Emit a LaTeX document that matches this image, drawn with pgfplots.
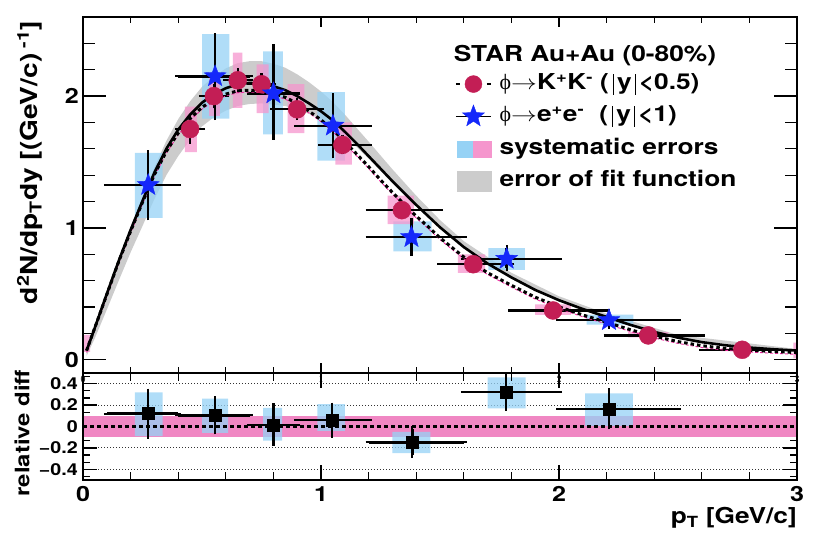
\documentclass[border=0pt]{standalone}
\usepackage{pgfplots}
\pgfplotsset{compat=1.18}
\usepackage{pgfplotstable}
\usepackage{fontspec}
\setmainfont{TeX Gyre Heros}[FakeStretch=1.2]
\newfontfamily\grk{Liberation Serif}

\definecolor{kcol}{RGB}{195,30,85}
\definecolor{ecol}{RGB}{20,40,250}
\definecolor{bsys}{RGB}{150,210,245}
\definecolor{psys}{RGB}{245,150,205}
\definecolor{pband}{RGB}{240,135,195}
\definecolor{bandgray}{RGB}{204,204,204}

% filled five-pointed star (ROOT marker 29)
\pgfdeclareplotmark{fstar}{%
  \pgfpathmoveto{\pgfpointpolar{90}{\pgfplotmarksize}}%
  \pgfpathlineto{\pgfpointpolar{126}{0.42\pgfplotmarksize}}%
  \pgfpathlineto{\pgfpointpolar{162}{\pgfplotmarksize}}%
  \pgfpathlineto{\pgfpointpolar{198}{0.42\pgfplotmarksize}}%
  \pgfpathlineto{\pgfpointpolar{234}{\pgfplotmarksize}}%
  \pgfpathlineto{\pgfpointpolar{270}{0.42\pgfplotmarksize}}%
  \pgfpathlineto{\pgfpointpolar{306}{\pgfplotmarksize}}%
  \pgfpathlineto{\pgfpointpolar{342}{0.42\pgfplotmarksize}}%
  \pgfpathlineto{\pgfpointpolar{18}{\pgfplotmarksize}}%
  \pgfpathlineto{\pgfpointpolar{54}{0.42\pgfplotmarksize}}%
  \pgfpathclose
  \pgfusepathqfillstroke}

% systematic box: x1 x2 y1 y2 colour
\newcommand\sysbox[5]{\addplot[draw=none, fill=#5, fill opacity=0.75, forget plot]
  coordinates {(#1,#3) (#2,#3) (#2,#4) (#1,#4) (#1,#3)};}

% fit function (solid) and K+K- fit (dotted)
\pgfplotstableread{
x S D
0.015 0.07 0.07
0.05 0.245 0.245
0.10 0.50 0.495
0.15 0.75 0.745
0.20 0.985 0.975
0.25 1.205 1.195
0.30 1.42 1.405
0.35 1.60 1.58
0.40 1.745 1.72
0.45 1.86 1.83
0.50 1.95 1.915
0.55 2.015 1.975
0.60 2.06 2.015
0.65 2.09 2.04
0.70 2.10 2.045
0.75 2.095 2.04
0.80 2.075 2.02
0.85 2.045 1.99
0.90 2.00 1.945
0.95 1.945 1.885
1.00 1.885 1.82
1.05 1.815 1.745
1.10 1.73 1.655
1.15 1.64 1.56
1.20 1.545 1.465
1.25 1.45 1.365
1.30 1.355 1.27
1.35 1.265 1.18
1.40 1.175 1.09
1.45 1.09 1.01
1.50 1.005 0.925
1.60 0.855 0.78
1.70 0.73 0.66
1.80 0.625 0.565
1.90 0.53 0.475
2.00 0.452 0.402
2.10 0.385 0.34
2.20 0.325 0.285
2.30 0.265 0.228
2.40 0.212 0.179
2.50 0.168 0.138
2.60 0.134 0.107
2.70 0.11 0.086
2.80 0.093 0.073
2.90 0.08 0.063
3.00 0.07 0.055
}\fittab

% error band of the fit: upper edge, then lower edge backwards
\pgfplotstableread{
x y
0.015 0.07
0.05 0.25
0.10 0.51
0.15 0.76
0.20 1.005
0.25 1.235
0.30 1.46
0.35 1.66
0.40 1.825
0.45 1.96
0.50 2.07
0.55 2.15
0.60 2.21
0.65 2.25
0.70 2.265
0.75 2.265
0.80 2.245
0.85 2.215
0.90 2.165
0.95 2.105
1.00 2.035
1.05 1.955
1.10 1.86
1.20 1.655
1.30 1.445
1.40 1.245
1.50 1.06
1.60 0.90
1.80 0.66
2.00 0.482
2.20 0.35
2.50 0.188
3.00 0.082
3.00 0.065
2.50 0.158
2.20 0.315
2.00 0.442
1.80 0.615
1.60 0.845
1.50 0.995
1.40 1.165
1.30 1.34
1.20 1.525
1.10 1.70
1.05 1.775
1.00 1.825
0.95 1.865
0.90 1.90
0.85 1.925
0.80 1.935
0.75 1.945
0.70 1.94
0.65 1.925
0.60 1.89
0.55 1.84
0.50 1.77
0.45 1.67
0.40 1.545
0.35 1.40
0.30 1.22
0.25 1.015
0.20 0.815
0.15 0.60
0.10 0.38
0.05 0.165
0.015 0.03
}\bandtab

% phi -> K+K-
\pgfplotstableread{
x y exm exp ey
0.45 1.75 0.05 0.05 0.09
0.55 2.00 0.05 0.05 0.07
0.65 2.12 0.05 0.05 0.07
0.75 2.09 0.05 0.05 0.06
0.90 1.90 0.10 0.10 0.06
1.09 1.63 0.09 0.11 0.05
1.34 1.135 0.14 0.16 0.04
1.64 0.725 0.14 0.16 0.03
1.975 0.374 0.175 0.225 0.02
2.375 0.185 0.175 0.225 0.012
2.77 0.076 0.17 0.23 0.006
}\kktab

% phi -> e+e-
\pgfplotstableread{
x y exm exp eyp eym
0.274 1.325 0.174 0.126 0.24 0.245
0.555 2.15 0.155 0.145 0.305 0.31
0.80 2.02 0.10 0.10 0.35 0.33
1.05 1.775 0.15 0.15 0.225 0.225
1.38 0.93 0.18 0.22 0.12 0.12
1.78 0.765 0.18 0.22 0.08 0.07
2.21 0.30 0.21 0.29 0.04 0.04
}\eetab

% relative difference
\pgfplotstableread{
x y exm exp ey
0.274 0.12 0.174 0.126 0.205
0.555 0.104 0.155 0.145 0.15
0.80 0.015 0.10 0.10 0.172
1.045 0.06 0.145 0.155 0.135
1.384 -0.148 0.184 0.216 0.12
1.777 0.32 0.177 0.223 0.145
2.21 0.166 0.21 0.29 0.165
}\reltab

\pgfplotsset{
  frame/.style={scale only axis, anchor=south west, width=714bp,
    xmin=0, xmax=3, axis line style={line width=2bp},
    tick align=inside, tick style={black, line width=1.3bp}},
  xminors/.style={minor xtick={0.2,0.4,0.6,0.8,1.2,1.4,1.6,1.8,2.2,2.4,2.6,2.8}},
  every error bar/.append style={black, line width=2.4bp},
  ebars/.style={error bars/x dir=both, error bars/x explicit,
    error bars/y dir=both, error bars/y explicit,
    error bars/error bar style={black, line width=2.4bp},
    error bars/error mark options={black, line width=2.2bp, mark size=3bp}},
}

\begin{document}
\bfseries
\begin{tikzpicture}
\useasboundingbox (0,0) rectangle (830bp,540bp);

% ---------------- upper panel ----------------
\begin{axis}[frame, at={(83bp,167bp)}, height=356bp,
  ymin=-0.1, ymax=2.6,
  xtick=\empty,
  ytick={-1,0,1,2,3},
  minor ytick={0.2,0.4,0.6,0.8,1.2,1.4,1.6,1.8,2.2,2.4},
  major tick length=23bp, minor tick length=12bp,
  /pgf/number format/assume math mode=true,
  yticklabel style={font=\fontsize{21}{21}\selectfont, inner sep=0pt, xshift=-4bp},
  ylabel={d\textsuperscript{2}N/dp\textsubscript{T}dy [(GeV/c)\textsuperscript{ -1}]},
  ylabel style={at={(axis description cs:-0.0742,0.99)}, anchor=east,
    font=\fontsize{23.5}{23.5}\selectfont, inner sep=0pt},
  legend style={draw=none, fill=none, at={(axis description cs:0.521,0.845)},
    anchor=north west, inner sep=0pt, row sep=9bp, column sep=8bp,
    nodes={inner sep=0pt, text height=15.5bp, text depth=4.5bp},
    font=\fontsize{22}{22}\selectfont},
  legend cell align=left,
]
\addplot[fill=bandgray, draw=none, forget plot] table[x=x, y=y] {\bandtab};

\sysbox{0.218}{0.335}{1.076}{1.57}{bsys}
\sysbox{0.50}{0.615}{1.83}{2.47}{bsys}
\sysbox{0.757}{0.84}{1.71}{2.34}{bsys}
\sysbox{0.985}{1.10}{1.51}{2.03}{bsys}
\sysbox{1.304}{1.465}{0.822}{1.05}{bsys}
\sysbox{1.703}{1.857}{0.683}{0.848}{bsys}
\sysbox{2.116}{2.312}{0.266}{0.342}{bsys}

\sysbox{0.0}{0.03}{0.06}{0.19}{psys}
\sysbox{0.428}{0.478}{1.575}{1.92}{psys}
\sysbox{0.53}{0.575}{1.85}{2.15}{psys}
\sysbox{0.63}{0.67}{1.91}{2.33}{psys}
\sysbox{0.73}{0.78}{1.87}{2.24}{psys}
\sysbox{0.86}{0.93}{1.72}{2.09}{psys}
\sysbox{1.06}{1.13}{1.48}{1.80}{psys}
\sysbox{1.28}{1.39}{1.03}{1.245}{psys}
\sysbox{1.575}{1.69}{0.66}{0.80}{psys}
\sysbox{1.90}{2.05}{0.34}{0.42}{psys}
\sysbox{2.29}{2.46}{0.17}{0.21}{psys}
\sysbox{2.68}{2.86}{0.066}{0.087}{psys}
\sysbox{2.985}{3.0}{0.01}{0.13}{psys}

\addplot[only marks, mark=*, mark size=9bp, mark options={fill=kcol, draw=kcol},
  ebars, forget plot]
  table[x=x, y=y, x error minus=exm, x error plus=exp, y error=ey] {\kktab};
\addplot[only marks, mark=fstar, mark size=11.5bp, mark options={fill=ecol, draw=ecol},
  ebars, forget plot]
  table[x=x, y=y, x error minus=exm, x error plus=exp, y error plus=eyp, y error minus=eym] {\eetab};

\addplot[color={rgb,255:red,240;green,40;blue,160}, line width=0.9bp,
  dash pattern=on 3bp off 2bp, yshift=-1.8bp, forget plot] table[x=x, y=D] {\fittab};
\addplot[black, line width=3bp, dash pattern=on 3.5bp off 3bp, forget plot]
  table[x=x, y=D] {\fittab};
\addplot[black, line width=2.6bp, forget plot] table[x=x, y=S] {\fittab};

\node[anchor=base west, inner sep=0pt, font=\fontsize{22}{22}\selectfont]
  at (axis description cs:0.519,0.8736) {STAR Au+Au (0-80\%)};

\addlegendimage{legend image code/.code={
  \path (0bp,-11.5bp) (0bp,11.5bp);
  \draw[black, line width=1.5bp] (0bp,0bp) -- (4bp,0bp) (31bp,0bp) -- (35bp,0bp);
  \fill[kcol] (17.5bp,0bp) circle (8.5bp);}}
\addlegendentry{{\grk\mdseries ϕ}\scalebox{1.25}[1]{$\rightarrow$}K\textsuperscript{+}K\textsuperscript{-}
  (\hspace{4bp}\rule[-5bp]{1.1bp}{21bp}\hspace{3bp}y\hspace{3bp}\rule[-5bp]{1.1bp}{21bp}\hspace{3bp}<0.5)}
\addlegendimage{legend image code/.code={
  \path (0bp,-11.5bp) (0bp,11.5bp);
  \draw[black, line width=1.5bp] (0bp,0bp) -- (35bp,0bp);
  \begin{scope}[shift={(17.5bp,0bp)}, fill=ecol, draw=ecol]
    \pgfsetplotmarksize{11.5bp}\pgfuseplotmark{fstar}
  \end{scope}}}
\addlegendentry{{\grk\mdseries ϕ}\scalebox{1.25}[1]{$\rightarrow$}e\textsuperscript{+}e\textsuperscript{-}\hspace{8bp}
  (\hspace{4bp}\rule[-5bp]{1.1bp}{21bp}\hspace{3bp}y\hspace{3bp}\rule[-5bp]{1.1bp}{21bp}\hspace{3bp}<1)}
\addlegendimage{legend image code/.code={
  \path (0bp,-11.5bp) (0bp,11.5bp);
  \fill[bsys] (1bp,-8bp) rectangle (17.5bp,8bp);
  \fill[psys] (17.5bp,-8bp) rectangle (35bp,8bp);}}
\addlegendentry{systematic errors}
\addlegendimage{legend image code/.code={
  \path (0bp,-11.5bp) (0bp,11.5bp);
  \fill[bandgray] (1bp,-10bp) rectangle (35bp,10bp);}}
\addlegendentry{error of fit function}
\end{axis}

% x ticks of the upper panel
\begin{axis}[frame, at={(83bp,167bp)}, height=356bp,
  ymin=-0.1, ymax=2.6, ytick=\empty,
  xtick={0,1,2,3}, xminors, xticklabel={},
  major tick length=10bp, minor tick length=6bp]
\addplot[draw=none, forget plot] coordinates {(1.5,1)};
\end{axis}

% ---------------- lower panel ----------------
\begin{axis}[frame, at={(83bp,60bp)}, height=107bp,
  ymin=-0.5, ymax=0.5,
  xtick=\empty,
  ytick={-0.4,-0.2,0,0.2,0.4},
  yticklabels={−0.4,−0.2,0,0.2,0.4},
  minor ytick={-0.4667,-0.3333,-0.2667,-0.1333,-0.0667,0.0667,0.1333,0.2667,0.3333,0.4667},
  major tick length=14bp, minor tick length=7bp,
  ymajorgrids, grid style={black!80, line width=0.8bp, dash pattern=on 1bp off 2bp},
  yticklabel style={font=\fontsize{16.5}{16.5}\selectfont, inner sep=0pt, xshift=-5bp},
  ylabel={relative diff},
  ylabel style={at={(axis description cs:-0.0854,1.03)}, anchor=east,
    font=\fontsize{20}{20}\selectfont, inner sep=0pt},
]
\addplot[draw=none, fill=pband, forget plot]
  coordinates {(0,-0.098) (3,-0.098) (3,0.098) (0,0.098) (0,-0.098)};
\sysbox{0.218}{0.335}{-0.09}{0.32}{bsys}
\sysbox{0.50}{0.61}{-0.06}{0.26}{bsys}
\sysbox{0.757}{0.837}{-0.133}{0.175}{bsys}
\sysbox{0.985}{1.10}{-0.04}{0.21}{bsys}
\sysbox{1.30}{1.46}{-0.25}{-0.05}{bsys}
\sysbox{1.70}{1.86}{0.17}{0.46}{bsys}
\sysbox{2.11}{2.31}{0.005}{0.31}{bsys}
\addplot[black, line width=3bp, dash pattern=on 4bp off 3bp, forget plot]
  coordinates {(0,0) (3,0)};
\addplot[only marks, mark=square*, mark size=6bp, mark options={fill=black, draw=black},
  ebars, forget plot]
  table[x=x, y=y, x error minus=exm, x error plus=exp, y error=ey] {\reltab};
\end{axis}

% x ticks and labels of the lower panel
\begin{axis}[frame, at={(83bp,60bp)}, height=107bp,
  ymin=-0.5, ymax=0.5, ytick=\empty,
  xtick={0,1,2,3}, xminors,
  major tick length=15bp, minor tick length=8bp,
  /pgf/number format/assume math mode=true,
  xticklabel style={font=\fontsize{21}{21}\selectfont, inner sep=0pt, yshift=-6bp},
  xlabel={p\textsubscript{T} [GeV/c]},
  xlabel style={at={(axis description cs:1,-0.355)}, anchor=east,
    font=\fontsize{22}{22}\selectfont, inner sep=0pt},
]
\addplot[draw=none, forget plot] coordinates {(1.5,0)};
\end{axis}
\end{tikzpicture}
\end{document}
